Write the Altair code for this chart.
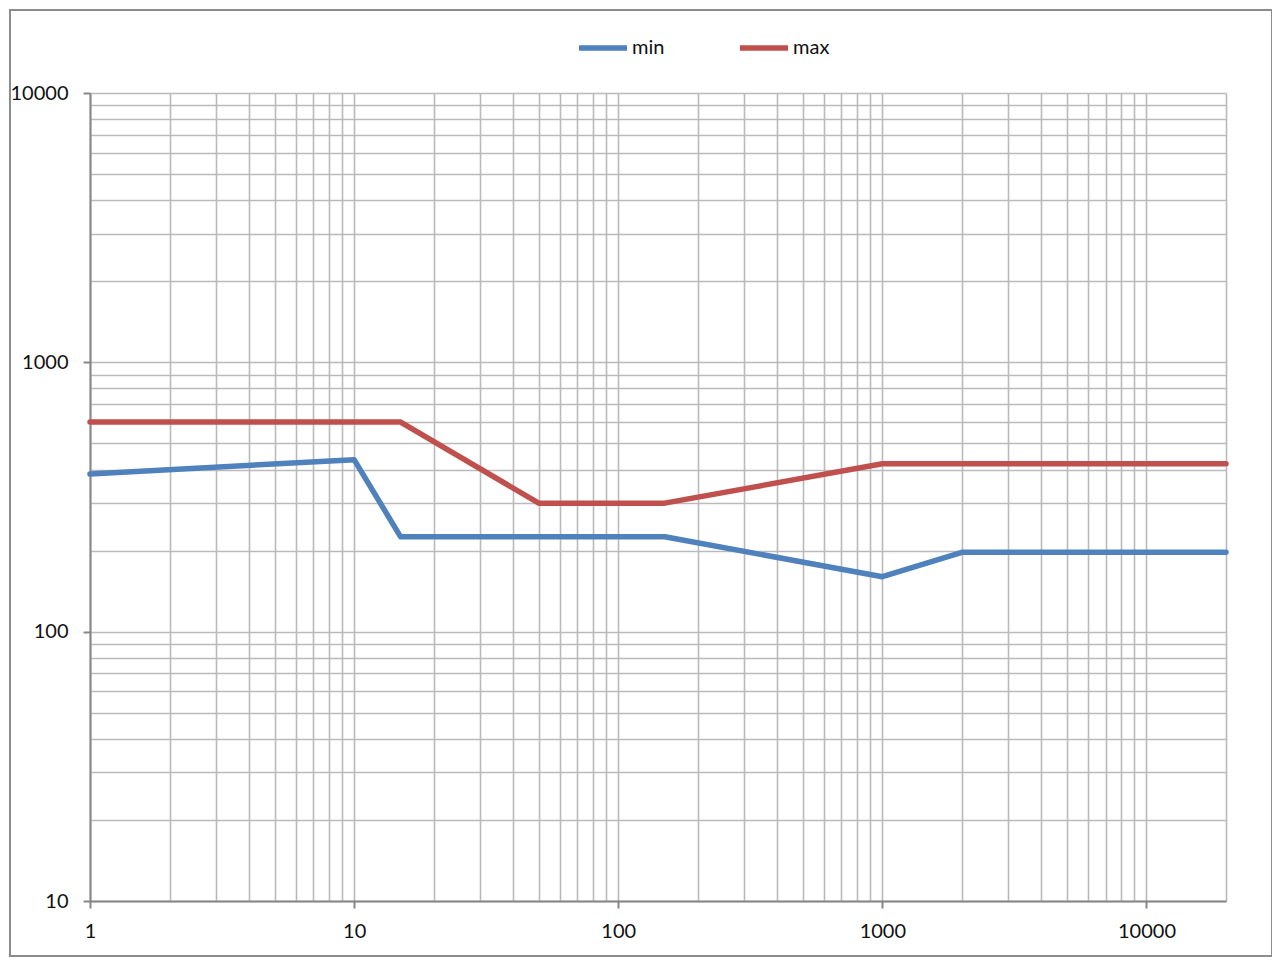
import altair as alt
import pandas as pd

# Series (log-log axes)
min_x = [1, 10, 15, 150, 1000, 2000, 20000]
min_y = [385, 435, 225, 225, 160, 197, 197]
max_x = [1, 15, 50, 150, 1000, 20000]
max_y = [600, 600, 300, 300, 420, 420]

series_names = ["min", "max"]
series_colors = ["#4F81BD", "#C0504D"]

x_grid = [m * 10 ** k for k in range(0, 4) for m in range(1, 10)] + [10000, 20000]
y_grid = [m * 10 ** k for k in range(1, 4) for m in range(1, 10)] + [10000]
x_major = [1, 10, 100, 1000, 10000]
y_major = [10, 100, 1000, 10000]

rows = [{"series": "min", "x": a, "y": b} for a, b in zip(min_x, min_y)]
rows += [{"series": "max", "x": a, "y": b} for a, b in zip(max_x, max_y)]
df = pd.DataFrame(rows)

W, H = 1136, 808


def major_test(vals):
    return "indexof(%s, datum.value) >= 0" % str(vals).replace(" ", "")


x_axis = alt.Axis(
    values=x_grid,
    labelExpr=major_test(x_major) + " ? format(datum.value, 'd') : ''",
    tickOpacity={"condition": {"test": major_test(x_major), "value": 1}, "value": 0},
    labelOverlap=False,
    labelFlush=False,
    labelPadding=13,
    title=None,
)
y_axis = alt.Axis(
    values=y_grid,
    labelExpr=major_test(y_major) + " ? format(datum.value, 'd') : ''",
    tickOpacity={"condition": {"test": major_test(y_major), "value": 1}, "value": 0},
    labelOverlap=False,
    labelFlush=False,
    labelPadding=15,
    title=None,
)

lines = alt.Chart(df).mark_line(strokeWidth=5.5, strokeCap="round", strokeJoin="round").encode(
    x=alt.X("x:Q", scale=alt.Scale(type="log", domain=[1, 20000], nice=False), axis=x_axis),
    y=alt.Y("y:Q", scale=alt.Scale(type="log", domain=[10, 10000], nice=False), axis=y_axis),
    color=alt.Color(
        "series:N",
        scale=alt.Scale(domain=series_names, range=series_colors),
        sort=series_names,
        legend=alt.Legend(
            title=None,
            orient="none",
            legendX=486,
            legendY=-72,
            direction="horizontal",
            symbolType="stroke",
            symbolStrokeWidth=5.5,
            symbolSize=2304,
            labelOffset=2,
            columnPadding=64,
        ),
    ),
    order=alt.Order("x:Q"),
)

border = alt.Chart(alt.Data(values=[{"k": 1}])).mark_rect(
    filled=False, stroke="#8c8c8c", strokeWidth=2
).encode(
    x=alt.value(-80), x2=alt.value(W + 46), y=alt.value(-83), y2=alt.value(H + 55)
)

chart = (
    alt.layer(border, lines)
    .properties(
        width=W,
        height=H,
        autosize=alt.AutoSizeParams(type="none"),
        padding={"left": 82, "top": 85, "right": 46, "bottom": 57},
    )
    .configure_view(stroke=None)
    .configure_axis(
        domainColor="#868686",
        domainWidth=2,
        tickColor="#868686",
        tickWidth=2,
        tickSize=7,
        gridColor="#bababa",
        gridWidth=1.6,
        labelFont="Lato",
        labelFontSize=20,
        labelColor="#111111",
    )
    .configure_legend(labelFont="Lato", labelFontSize=20, labelColor="#111111")
)

chart.save("out.html", embed_options={"renderer": "svg", "actions": False})
